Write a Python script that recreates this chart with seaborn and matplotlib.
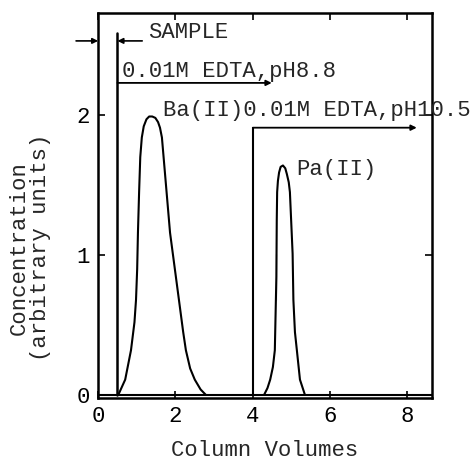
import matplotlib
matplotlib.use("Agg")
import matplotlib.pyplot as plt
import seaborn as sns
import pandas as pd

# Elution profile of Ba(II) (eluted with 0.01M EDTA, pH 8.8)
ba_volume = [0.52, 0.70, 0.85, 0.94, 0.98, 1.01, 1.03, 1.06, 1.09, 1.13, 1.18, 1.25, 1.32,
             1.40, 1.48, 1.55, 1.60, 1.65, 1.86, 2.09, 2.20, 2.27, 2.38, 2.50, 2.65, 2.79]
ba_conc = [0.0, 0.11, 0.32, 0.52, 0.68, 0.90, 1.16, 1.45, 1.70, 1.84, 1.92, 1.97, 1.99,
           1.99, 1.98, 1.95, 1.91, 1.84, 1.16, 0.68, 0.45, 0.32, 0.19, 0.11, 0.04, 0.0]

# Elution profile of Pa(II) (eluted with 0.01M EDTA, pH 10.5)
pa_volume = [4.29, 4.38, 4.45, 4.52, 4.57, 4.61, 4.61, 4.62, 4.63, 4.65, 4.68, 4.72,
             4.78, 4.84, 4.88, 4.93, 4.96, 5.03, 5.05, 5.09, 5.14, 5.22, 5.35]
pa_conc = [0.0, 0.05, 0.11, 0.20, 0.32, 0.68, 1.01, 1.25, 1.45, 1.53, 1.59, 1.63,
           1.64, 1.62, 1.58, 1.52, 1.45, 1.01, 0.68, 0.45, 0.32, 0.11, 0.0]

# Eluent changes: sample injection and the two EDTA steps
sample_volume = 0.5
edta1_start, edta1_end = 0.5, 4.49
edta2_start, edta2_end = 4.0, 8.24

x_ticks = [0, 2, 4, 6, 8]
y_ticks = [0, 1, 2]

sns.set_theme(style="ticks")
mono = ["Liberation Mono", "DejaVu Sans Mono"]
plt.rcParams["font.family"] = mono
plt.rcParams["font.size"] = 16

fig = plt.figure(figsize=(4.74, 4.61), dpi=100)
ax = fig.add_axes([0.207, 0.137, 0.704, 0.835])

ba = pd.DataFrame({"volume": ba_volume, "conc": ba_conc})
pa = pd.DataFrame({"volume": pa_volume, "conc": pa_conc})
sns.lineplot(data=ba, x="volume", y="conc", sort=False, color="black", lw=1.5, ax=ax)
sns.lineplot(data=pa, x="volume", y="conc", sort=False, color="black", lw=1.5, ax=ax)

# Baseline
ax.plot([0, 8.63], [0, 0], color="black", lw=1.5)

# Sample injection marker
ax.plot([sample_volume, sample_volume], [0, 2.59], color="black", lw=1.8)
ax.annotate("", xy=(sample_volume, 2.53), xytext=(1.14, 2.53),
            arrowprops=dict(arrowstyle="-|>", color="black", lw=1.2,
                            mutation_scale=8, shrinkA=0, shrinkB=0))
ax.annotate("", xy=(0, 2.53), xytext=(-0.57, 2.53), annotation_clip=False,
            arrowprops=dict(arrowstyle="-|>", color="black", lw=1.2,
                            mutation_scale=8, shrinkA=0, shrinkB=0))
ax.text(1.29, 2.59, "SAMPLE", va="center", ha="left")

# First EDTA step
ax.annotate("", xy=(edta1_end, 2.23), xytext=(edta1_start, 2.23),
            arrowprops=dict(arrowstyle="-|>", color="black", lw=1.3,
                            mutation_scale=8, shrinkA=0, shrinkB=0))
ax.text(0.62, 2.31, "0.01M EDTA,pH8.8", va="center", ha="left")

# Second EDTA step
ax.plot([edta2_start, edta2_start], [0, 1.91], color="black", lw=1.5)
ax.annotate("", xy=(edta2_end, 1.91), xytext=(edta2_start, 1.91),
            arrowprops=dict(arrowstyle="-|>", color="black", lw=1.3,
                            mutation_scale=8, shrinkA=0, shrinkB=0))
ax.text(1.68, 2.03, "Ba(II)0.01M EDTA,pH10.5", va="center", ha="left", clip_on=False)

ax.text(5.12, 1.61, "Pa(II)", va="center", ha="left")

ax.set_xlim(0, 8.63)
ax.set_ylim(-0.02, 2.73)
ax.set_xticks(x_ticks)
ax.set_yticks(y_ticks)
ax.tick_params(direction="in", length=5, width=1.2, top=True, right=True,
               labelsize=16, colors="black", pad=6)
for s in ax.spines.values():
    s.set_linewidth(1.8)
    s.set_color("black")

ax.set_xlabel("Column Volumes", fontsize=16, labelpad=9)
ax.set_ylabel("Concentration\n(arbitrary units)", fontsize=16, linespacing=1.05)
ax.yaxis.set_label_coords(-0.14, 0.39)

fig.savefig("out.png", dpi=100)
